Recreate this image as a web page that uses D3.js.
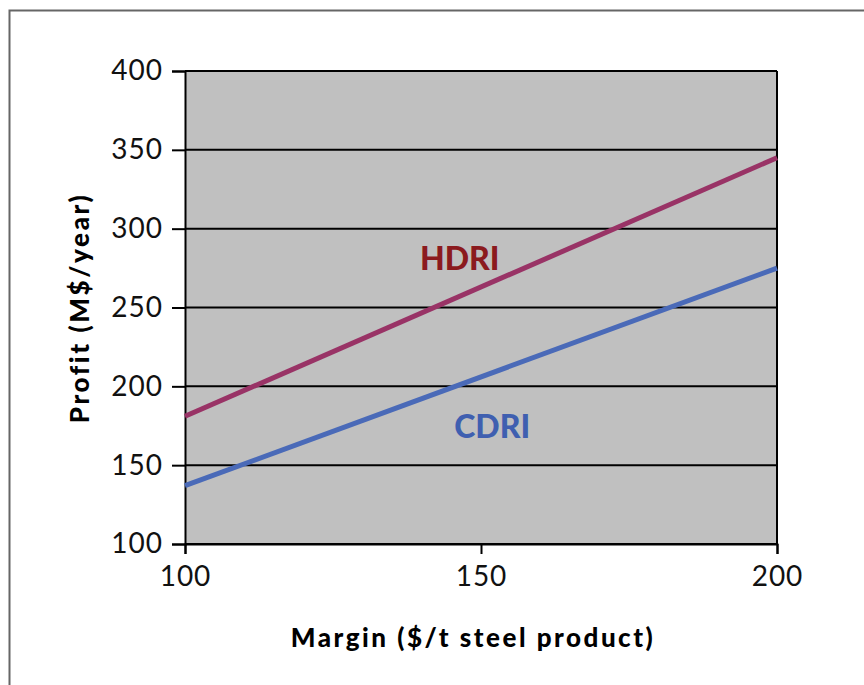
<!DOCTYPE html>
<html lang="en">
  <head>
    <meta charset="utf-8" />
    <title>Profit vs margin</title>
    <script src="https://d3js.org/d3.v7.min.js"></script>
    <style>
      body { margin: 0; background: white; }
      .tick text { font-family: "Lato", sans-serif; font-size: 28px; letter-spacing: 1px; fill: #111; }
      .title { font-family: "Lato", sans-serif; font-weight: 900; fill: #000; }
    </style>
  </head>
  <body>
    <svg width="864" height="685"></svg>
    <script>
      // data
      const margins = [100, 200];
      const hdri = [181, 345];
      const cdri = [137, 275];
      const xTicks = [100, 150, 200];
      const yTicks = [100, 150, 200, 250, 300, 350, 400];

      const svg = d3.select("svg"),
        margin = { top: 71, right: 87, bottom: 141, left: 185 },
        width = +svg.attr("width") - margin.left - margin.right,
        height = +svg.attr("height") - margin.top - margin.bottom;

      // outer frame
      svg.append("rect")
        .attr("x", 9.5).attr("y", 10.5)
        .attr("width", 900).attr("height", 900)
        .attr("fill", "none").attr("stroke", "#666").attr("stroke-width", 2);

      const g = svg.append("g")
        .attr("transform", "translate(" + margin.left + "," + margin.top + ")");

      const x = d3.scaleLinear().domain([100, 200]).range([0, width]);
      const y = d3.scaleLinear().domain([100, 400]).range([height, 0]);

      g.append("rect")
        .attr("width", width).attr("height", height)
        .attr("fill", "#c0c0c0");

      // gridlines
      g.selectAll(".grid")
        .data(yTicks)
        .enter()
        .append("line")
        .attr("x1", 0).attr("x2", width)
        .attr("y1", d => y(d)).attr("y2", d => y(d))
        .attr("stroke", "#000").attr("stroke-width", 2);

      g.append("line")
        .attr("x1", width).attr("x2", width)
        .attr("y1", 0).attr("y2", height)
        .attr("stroke", "#000").attr("stroke-width", 2);

      const yAxis = g.append("g")
        .call(d3.axisLeft(y).tickValues(yTicks).tickSize(13).tickPadding(9));
      const xAxis = g.append("g")
        .attr("transform", "translate(0," + height + ")")
        .call(d3.axisBottom(x).tickValues(xTicks).tickSize(10).tickPadding(12));

      [yAxis, xAxis].forEach(a => {
        a.select(".domain").attr("stroke", "#000").attr("stroke-width", 2);
        a.selectAll(".tick line").attr("stroke", "#000").attr("stroke-width", 2);
      });

      const line = d3.line().x((d, i) => x(margins[i])).y(d => y(d));

      g.append("path").datum(hdri)
        .attr("d", line)
        .attr("fill", "none").attr("stroke", "#993366").attr("stroke-width", 5);
      g.append("path").datum(cdri)
        .attr("d", line)
        .attr("fill", "none").attr("stroke", "#4a6ab8").attr("stroke-width", 5);

      g.append("text")
        .attr("class", "title")
        .attr("x", x(146.4)).attr("y", y(273.5))
        .attr("text-anchor", "middle")
        .attr("font-size", "32px")
        .style("fill", "#8b1a1e")
        .text("HDRI");
      g.append("text")
        .attr("class", "title")
        .attr("x", x(151.9)).attr("y", y(167))
        .attr("text-anchor", "middle")
        .attr("font-size", "32px")
        .style("fill", "#3f5fb0")
        .text("CDRI");

      svg.append("text")
        .attr("class", "title")
        .attr("x", 473).attr("y", 647)
        .attr("text-anchor", "middle")
        .attr("font-size", "26px")
        .attr("letter-spacing", "2.5px")
        .text("Margin ($/t steel product)");

      svg.append("text")
        .attr("class", "title")
        .attr("transform", "translate(89,308) rotate(-90)")
        .attr("text-anchor", "middle")
        .attr("font-size", "26px")
        .attr("letter-spacing", "2.6px")
        .text("Profit (M$/year)");
    </script>
  </body>
</html>
